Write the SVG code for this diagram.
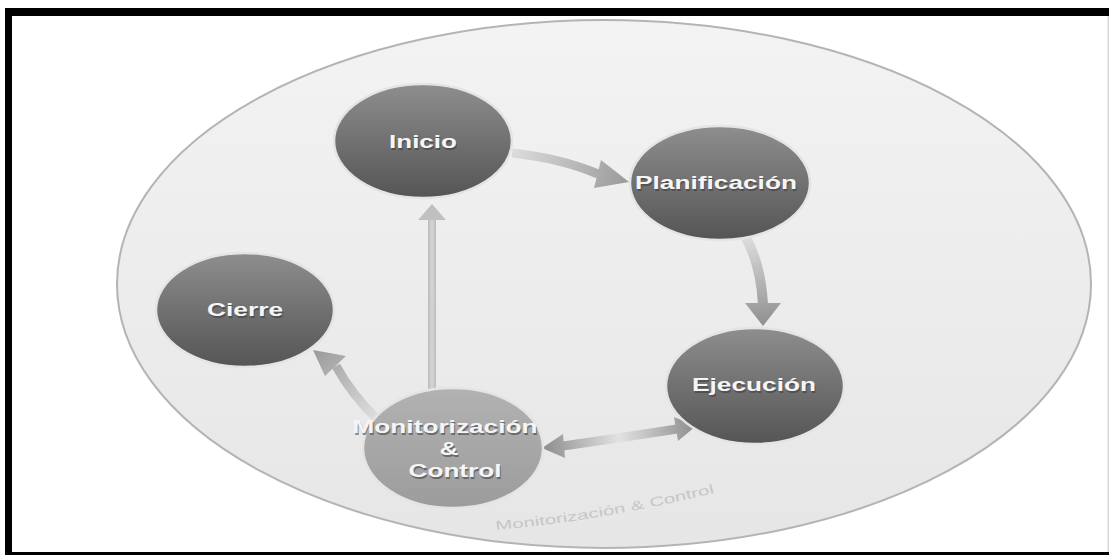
<svg xmlns="http://www.w3.org/2000/svg" width="1109" height="555" viewBox="0 0 1109 555">
<defs>
<linearGradient id="bigFill" x1="0" y1="0" x2="0" y2="1">
<stop offset="0" stop-color="#f3f3f3"/>
<stop offset="1" stop-color="#e6e6e6"/>
</linearGradient>
<linearGradient id="darkNode" x1="0" y1="0" x2="0" y2="1">
<stop offset="0" stop-color="#8e8e8e"/>
<stop offset="0.55" stop-color="#6e6e6e"/>
<stop offset="1" stop-color="#555555"/>
</linearGradient>
<linearGradient id="lightNode" x1="0" y1="0" x2="0" y2="1">
<stop offset="0" stop-color="#b2b2b2"/>
<stop offset="1" stop-color="#9c9c9c"/>
</linearGradient>
<linearGradient id="g1" gradientUnits="userSpaceOnUse" x1="512" y1="153" x2="628" y2="182">
<stop offset="0" stop-color="#dcdcdc"/>
<stop offset="1" stop-color="#9a9a9a"/>
</linearGradient>
<linearGradient id="g2" gradientUnits="userSpaceOnUse" x1="748" y1="238" x2="763" y2="326">
<stop offset="0" stop-color="#dcdcdc"/>
<stop offset="1" stop-color="#8f8f8f"/>
</linearGradient>
<linearGradient id="g3" gradientUnits="userSpaceOnUse" x1="378" y1="420" x2="313" y2="350">
<stop offset="0" stop-color="#e0e0e0"/>
<stop offset="1" stop-color="#999999"/>
</linearGradient>
<linearGradient id="g5" gradientUnits="userSpaceOnUse" x1="542" y1="448" x2="696" y2="426">
<stop offset="0" stop-color="#8c8c8c"/>
<stop offset="0.5" stop-color="#e2e2e2"/>
<stop offset="1" stop-color="#8c8c8c"/>
</linearGradient>
<linearGradient id="g4" x1="0" y1="0" x2="1" y2="0">
<stop offset="0" stop-color="#bcbcbc"/>
<stop offset="0.5" stop-color="#d6d6d6"/>
<stop offset="1" stop-color="#bcbcbc"/>
</linearGradient>
</defs>
<style>
.node{stroke:#e4e4e4;stroke-width:2.5}
.lbl{font-family:"Liberation Sans",Arial,sans-serif;font-weight:bold;font-size:18px;fill:#f5f5f5;text-anchor:middle}
.sh{fill:#3a3a3a;opacity:0.55}
.wm{font-family:"Liberation Sans",Arial,sans-serif;font-size:13px;fill:#c6c6c6}
</style>
<rect x="0" y="0" width="1109" height="555" fill="#ffffff"/>
<g id="background">
<ellipse cx="604" cy="284" rx="487" ry="264" fill="url(#bigFill)" stroke="#b4b4b4" stroke-width="2"/>
<path id="wmPath" d="M 496 530 Q 600 521 718 492" fill="none"/>
<text class="wm"><textPath href="#wmPath" textLength="222" lengthAdjust="spacingAndGlyphs">Monitorización &amp; Control</textPath></text>
</g>
<g id="connectors">
<path d="M 512 153 Q 560 158 598 174" fill="none" stroke="url(#g1)" stroke-width="9"/>
<polygon points="629,182 601,160 594,188" fill="url(#g1)"/>
<path d="M 746 238 Q 761 265 763 305" fill="none" stroke="url(#g2)" stroke-width="10"/>
<polygon points="745,303 781,303 763,326" fill="url(#g2)"/>
<rect x="428" y="218" width="8" height="172" fill="url(#g4)"/>
<polygon points="432,204 418,220 446,220" fill="#c0c0c0"/>
<path d="M 378 420 Q 352 395 336 366" fill="none" stroke="url(#g3)" stroke-width="9"/>
<polygon points="313,350 325,376 346,356" fill="url(#g3)"/>
<path d="M 563 446 Q 620 438 677 429" fill="none" stroke="url(#g5)" stroke-width="9"/>
<polygon points="542,448 563,434 565,458" fill="url(#g5)"/>
<polygon points="696,426 674,417 678,441" fill="url(#g5)"/>
</g>
<g id="node-inicio">
<ellipse cx="423" cy="141" rx="89" ry="57" fill="url(#darkNode)" class="node"/>
<text class="lbl sh" x="424" y="149.5" textLength="68" lengthAdjust="spacingAndGlyphs">Inicio</text>
<text class="lbl" x="423" y="148" textLength="68" lengthAdjust="spacingAndGlyphs">Inicio</text>
</g>
<g id="node-planificacion">
<ellipse cx="720" cy="183" rx="90" ry="57" fill="url(#darkNode)" class="node"/>
<text class="lbl sh" x="717" y="190.5" textLength="162" lengthAdjust="spacingAndGlyphs">Planificación</text>
<text class="lbl" x="716" y="189" textLength="162" lengthAdjust="spacingAndGlyphs">Planificación</text>
</g>
<g id="node-cierre">
<ellipse cx="245" cy="310" rx="89" ry="57" fill="url(#darkNode)" class="node"/>
<text class="lbl sh" x="246" y="317.5" textLength="76" lengthAdjust="spacingAndGlyphs">Cierre</text>
<text class="lbl" x="245" y="316" textLength="76" lengthAdjust="spacingAndGlyphs">Cierre</text>
</g>
<g id="node-ejecucion">
<ellipse cx="755" cy="386" rx="89" ry="58" fill="url(#darkNode)" class="node"/>
<text class="lbl sh" x="755" y="392.5" textLength="124" lengthAdjust="spacingAndGlyphs">Ejecución</text>
<text class="lbl" x="754" y="391" textLength="124" lengthAdjust="spacingAndGlyphs">Ejecución</text>
</g>
<g id="node-monitorizacion">
<ellipse cx="453" cy="448" rx="90" ry="60" fill="url(#lightNode)" class="node"/>
<text class="lbl sh" x="446" y="434.5" textLength="185" lengthAdjust="spacingAndGlyphs">Monitorización</text>
<text class="lbl" x="445" y="433" textLength="185" lengthAdjust="spacingAndGlyphs">Monitorización</text>
<text class="lbl sh" x="450" y="456.5" textLength="19" lengthAdjust="spacingAndGlyphs">&amp;</text>
<text class="lbl" x="449" y="455" textLength="19" lengthAdjust="spacingAndGlyphs">&amp;</text>
<text class="lbl sh" x="456" y="478.5" textLength="93" lengthAdjust="spacingAndGlyphs">Control</text>
<text class="lbl" x="455" y="477" textLength="93" lengthAdjust="spacingAndGlyphs">Control</text>
</g>
<g id="frame">
<rect x="5" y="8" width="1104" height="8" fill="#000000"/>
<rect x="5" y="8" width="7" height="547" fill="#000000"/>
<rect x="5" y="552" width="1104" height="3" fill="#000000"/>
<rect x="1107.5" y="16" width="1.5" height="536" fill="#d8d8d8"/>
</g>
</svg>
